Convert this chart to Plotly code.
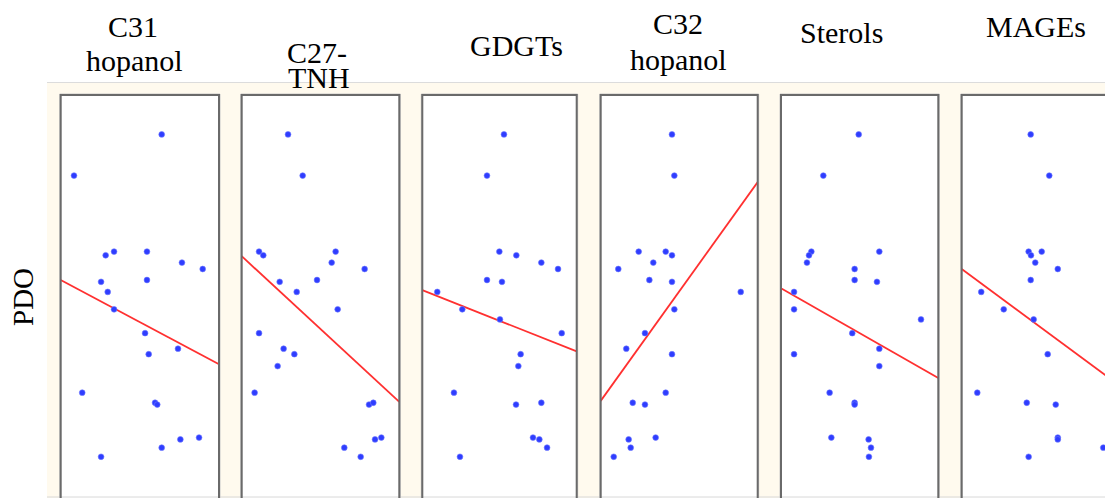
import plotly.graph_objects as go

PAGE_W, PAGE_H = 1113, 498
OFF = 8                      # default body margin of the html page
W, H = PAGE_W - OFF, PAGE_H - OFF

# ---------------- data ----------------
# proxy values on a 0-10 relative scale, PDO index on the vertical
titles_line1 = ["C31", "C27-", "GDGTs", "C32", "Sterols", "MAGEs"]
titles_line2 = ["hopanol", "TNH", "", "hopanol", "", ""]

c31_x = [6.38, 0.84, 2.84, 3.37, 5.45, 7.66, 8.97, 2.55, 5.45, 2.97, 3.37,
         5.33, 7.41, 5.56, 1.36, 5.96, 6.10, 7.56, 8.74, 6.38, 2.55]
c31_pdo = [1.77, 1.32, 0.45, 0.49, 0.49, 0.37, 0.30, 0.16, 0.18, 0.05, -0.14,
           -0.40, -0.57, -0.63, -1.05, -1.16, -1.18, -1.56, -1.54, -1.65, -1.75]

tnh_x = [2.94, 3.87, 1.10, 1.37, 5.96, 5.71, 7.80, 2.41, 4.78, 3.49, 6.09,
         1.10, 2.66, 3.34, 2.28, 0.82, 8.08, 8.35, 6.51, 7.55, 8.46, 8.86]
tnh_pdo = [1.77, 1.32, 0.49, 0.45, 0.49, 0.37, 0.30, 0.16, 0.18, 0.05, -0.14,
           -0.40, -0.57, -0.63, -0.76, -1.05, -1.18, -1.16, -1.65, -1.75, -1.56, -1.54]

gdgt_x = [5.29, 4.19, 4.99, 6.09, 7.71, 8.79, 4.19, 5.16, 0.97, 2.59, 5.03,
          9.03, 6.37, 6.22, 2.05, 6.07, 7.71, 7.17, 7.58, 8.08, 2.44]
gdgt_pdo = [1.77, 1.32, 0.49, 0.45, 0.37, 0.30, 0.18, 0.16, 0.05, -0.14, -0.25,
            -0.40, -0.63, -0.76, -1.05, -1.18, -1.16, -1.54, -1.56, -1.65, -1.75]

c32_x = [4.54, 4.69, 2.42, 4.14, 4.54, 3.35, 1.12, 3.10, 4.54, 8.92, 4.69,
         2.82, 1.63, 4.54, 4.14, 2.04, 2.82, 1.78, 3.50, 1.91, 0.83]
c32_pdo = [1.77, 1.32, 0.49, 0.49, 0.45, 0.37, 0.30, 0.18, 0.16, 0.05, -0.14,
           -0.40, -0.57, -0.63, -1.05, -1.16, -1.18, -1.56, -1.54, -1.65, -1.75]

sterol_x = [4.94, 2.69, 1.93, 1.78, 1.65, 6.25, 4.68, 4.68, 6.10, 0.83, 0.83,
            8.90, 4.53, 6.25, 0.83, 6.25, 3.09, 4.68, 4.68, 3.20, 5.57, 5.72, 5.59]
sterol_pdo = [1.77, 1.32, 0.49, 0.45, 0.37, 0.49, 0.30, 0.18, 0.16, 0.05, -0.14,
              -0.25, -0.40, -0.57, -0.63, -0.76, -1.05, -1.16, -1.18, -1.54, -1.56, -1.65, -1.75]

mage_x = [4.38, 5.56, 4.25, 4.40, 5.08, 4.67, 6.10, 4.38, 1.24, 2.67, 4.57,
          5.46, 0.99, 4.13, 5.97, 6.10, 6.10, 8.99, 4.25]
mage_pdo = [1.77, 1.32, 0.49, 0.45, 0.49, 0.37, 0.30, 0.18, 0.05, -0.14, -0.25,
            -0.63, -1.05, -1.16, -1.18, -1.54, -1.56, -1.65, -1.75]

# fitted trend lines: PDO value at proxy = 0 and proxy = 10
fit_at_0 = [0.18, 0.44, 0.07, -1.14, 0.09, 0.30]
fit_at_10 = [-0.74, -1.15, -0.60, 1.25, -0.89, -0.97]

panel_x = [c31_x, tnh_x, gdgt_x, c32_x, sterol_x, mage_x]
panel_pdo = [c31_pdo, tnh_pdo, gdgt_pdo, c32_pdo, sterol_pdo, mage_pdo]

# ---------------- layout / style (page pixel positions) ----------------
panel_left = [60.7, 241.7, 422.3, 600.7, 781.0, 961.7]
panel_width = [158.3, 157.6, 154.4, 157.0, 157.3, 157.5]
panel_top = 95
x_range = (0, 10)
y_range = (-2.2, 2.2)

title_cx1 = [133, 317, 516, 678, 841, 1036]
title_cy1 = [26, 53, 45, 23, 32, 26]
title_cx2 = [134, 319, 516, 678, 841, 1036]
title_cy2 = [61, 78, 0, 60, 0, 0]

SERIF = "Liberation Serif, Times New Roman, serif"
DOT = "#2f3dff"
RED = "#ff3030"
CREAM = "#fffaee"


def px_x(v):
    return (v - OFF) / W


def px_y(v):
    return 1 - (v - OFF) / H


fig = go.Figure()
layout = dict(
    width=W, height=H,
    margin=dict(l=0, r=0, t=0, b=0),
    paper_bgcolor="white",
    plot_bgcolor="white",
    showlegend=False,
    shapes=[], annotations=[],
)

# cream background band
layout["shapes"].append(dict(type="rect", xref="paper", yref="paper",
                             x0=px_x(47), x1=1.0, y0=0, y1=px_y(82),
                             fillcolor=CREAM, line=dict(width=0), layer="below"))
layout["shapes"].append(dict(type="line", xref="paper", yref="paper",
                             x0=px_x(47), x1=1.0, y0=px_y(82.5), y1=px_y(82.5),
                             line=dict(color="#dcdcdc", width=1)))
layout["shapes"].append(dict(type="line", xref="paper", yref="paper",
                             x0=px_x(47), x1=1.0, y0=px_y(497), y1=px_y(497),
                             line=dict(color="#d8d8d8", width=1)))

for i in range(6):
    n = i + 1
    xa = "xaxis" if n == 1 else f"xaxis{n}"
    ya = "yaxis" if n == 1 else f"yaxis{n}"
    xr = "x" if n == 1 else f"x{n}"
    yr = "y" if n == 1 else f"y{n}"
    left = panel_left[i]
    right_full = left + panel_width[i]
    right = min(right_full, PAGE_W)
    xmax = x_range[0] + (x_range[1] - x_range[0]) * (right - left) / panel_width[i]
    layout[xa] = dict(domain=[px_x(left), px_x(right)], range=[x_range[0], xmax],
                      showgrid=False, zeroline=False, showticklabels=False,
                      showline=False, ticks="", anchor=yr)
    layout[ya] = dict(domain=[0, px_y(panel_top)], range=list(y_range),
                      showgrid=False, zeroline=False, showticklabels=False,
                      showline=False, ticks="", anchor=xr)

    # panel white fill and border (the last one runs off the right edge)
    layout["shapes"].append(dict(type="rect", xref="paper", yref="paper",
                                 x0=px_x(left), x1=px_x(right_full),
                                 y0=px_y(PAGE_H + 5), y1=px_y(panel_top),
                                 fillcolor="white", line=dict(width=0), layer="below"))
    layout["shapes"].append(dict(type="rect", xref="paper", yref="paper",
                                 x0=px_x(left - 1), x1=px_x(right_full + 1),
                                 y0=px_y(PAGE_H + 5), y1=px_y(panel_top - 1),
                                 line=dict(color="#c8c8c8", width=1), layer="above"))
    layout["shapes"].append(dict(type="rect", xref="paper", yref="paper",
                                 x0=px_x(left), x1=px_x(right_full),
                                 y0=px_y(PAGE_H + 5), y1=px_y(panel_top),
                                 line=dict(color="#6a6a6a", width=2), layer="above"))

    fig.add_trace(go.Scatter(
        x=list(x_range), y=[fit_at_0[i], fit_at_10[i]],
        mode="lines", line=dict(color=RED, width=1.8),
        xaxis=xr, yaxis=yr, hoverinfo="skip"))
    fig.add_trace(go.Scatter(
        x=panel_x[i], y=panel_pdo[i], mode="markers",
        marker=dict(color=DOT, size=5.8, line=dict(width=0.6, color="#6f7bff")),
        xaxis=xr, yaxis=yr, cliponaxis=True))

    layout["annotations"].append(dict(
        text=titles_line1[i], xref="paper", yref="paper",
        x=px_x(title_cx1[i]), y=px_y(title_cy1[i]),
        xanchor="center", yanchor="middle", showarrow=False,
        font=dict(family=SERIF, size=30, color="black")))
    if titles_line2[i]:
        layout["annotations"].append(dict(
            text=titles_line2[i], xref="paper", yref="paper",
            x=px_x(title_cx2[i]), y=px_y(title_cy2[i]),
            xanchor="center", yanchor="middle", showarrow=False,
            font=dict(family=SERIF, size=30, color="black")))

layout["annotations"].append(dict(
    text="PDO", xref="paper", yref="paper", x=px_x(23), y=px_y(297),
    xanchor="center", yanchor="middle", textangle=-90, showarrow=False,
    font=dict(family=SERIF, size=29, color="black")))

fig.update_layout(**layout)
fig.write_html("out.html")
